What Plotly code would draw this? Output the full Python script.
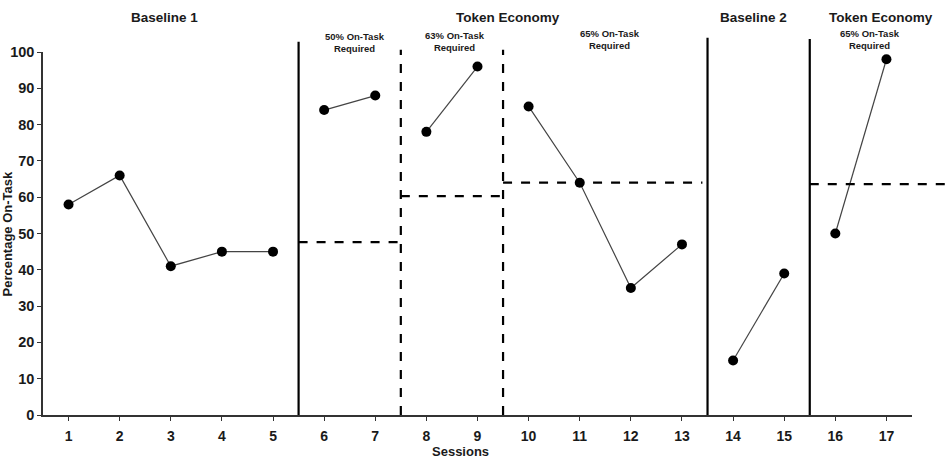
import plotly.graph_objects as go

sessions = list(range(1, 18))
on_task = [58, 66, 41, 45, 45, 84, 88, 78, 96, 85, 64, 35, 47, 15, 39, 50, 98]
phase_ids = [0, 0, 0, 0, 0, 1, 1, 2, 2, 3, 3, 3, 3, 4, 4, 5, 5]

phase_lines_x = [5.5, 7.5, 9.5, 13.5, 15.5]
phase_lines_dash = ["solid", "dash", "dash", "solid", "solid"]
phase_lines_top = [1.028, 1.006, 1.006, 1.039, 1.036]

criterion_start = [5.5, 7.5, 9.5, 15.5]
criterion_end = [7.5, 9.5, 13.4, 18.2]
criterion_level = [47.6, 60.3, 64.0, 63.6]

phase_titles = ["Baseline 1", "Token Economy", "Baseline 2", "Token Economy"]
phase_title_x = [2.87, 9.6, 14.4, 16.9]
sub_titles = ["50% On-Task<br>Required", "63% On-Task<br>Required",
              "65% On-Task<br>Required", "65% On-Task<br>Required"]
sub_title_x = [6.6, 8.55, 11.6, 16.67]
sub_title_y = [0.988, 0.993, 0.996, 0.996]

FONT = "Liberation Sans, Arial, sans-serif"
W, H = 946, 460
L, R, T, B = 43, 34, 52, 45
X_RANGE = [0.5, 17.5]


def to_paper_x(v):
    return (v - X_RANGE[0]) / (X_RANGE[1] - X_RANGE[0])


fig = go.Figure()
for p in sorted(set(phase_ids)):
    xs = [s for s, ph in zip(sessions, phase_ids) if ph == p]
    ys = [v for v, ph in zip(on_task, phase_ids) if ph == p]
    fig.add_trace(go.Scatter(
        x=xs, y=ys, mode="lines+markers",
        line=dict(color="#444444", width=1.2),
        marker=dict(color="black", size=10),
        showlegend=False, cliponaxis=False,
    ))

for x, d, top in zip(phase_lines_x, phase_lines_dash, phase_lines_top):
    fig.add_shape(type="line", xref="x", yref="paper", x0=x, x1=x, y0=0, y1=top,
                  line=dict(color="black", width=2.2, dash=d))

for x0, x1, lv in zip(criterion_start, criterion_end, criterion_level):
    fig.add_shape(type="line", xref="paper", yref="y",
                  x0=to_paper_x(x0), x1=to_paper_x(x1), y0=lv, y1=lv,
                  line=dict(color="black", width=2.2, dash="dash"))

for t, x in zip(phase_titles, phase_title_x):
    fig.add_annotation(text="<b>" + t + "</b>", x=x, xref="x", y=1.0 + (52 - 18) / 363,
                       yref="paper", showarrow=False,
                       font=dict(family=FONT, size=13.5, color="#1a1a1a"),
                       xanchor="center", yanchor="middle")

for t, x, y in zip(sub_titles, sub_title_x, sub_title_y):
    fig.add_annotation(text="<b>" + t + "</b>", x=x, xref="x", y=y, yref="paper",
                       showarrow=False, font=dict(family=FONT, size=9.5, color="#1a1a1a"),
                       xanchor="center", yanchor="bottom")

fig.add_annotation(text="<b>Percentage On-Task</b>", textangle=-90,
                   x=(7 - L) / (W - L - R), xref="paper", y=0.5, yref="paper",
                   showarrow=False, font=dict(family=FONT, size=13, color="#1a1a1a"),
                   xanchor="center", yanchor="middle")
fig.add_annotation(text="<b>Sessions</b>", x=(460 - L) / (W - L - R), xref="paper",
                   y=-(442 - 415) / 363, yref="paper", showarrow=False,
                   font=dict(family=FONT, size=13, color="#1a1a1a"),
                   xanchor="center", yanchor="top")

fig.update_layout(
    width=W, height=H,
    margin=dict(l=L, r=R, t=T, b=B, autoexpand=False),
    plot_bgcolor="white", paper_bgcolor="white",
    xaxis=dict(range=X_RANGE, tickmode="array", tickvals=sessions,
               ticktext=["<b>%d</b>" % s for s in sessions],
               showgrid=False, zeroline=False, showline=True, automargin=False,
               linecolor="#333333", linewidth=1.5, ticks="outside", ticklen=4,
               ticklabelstandoff=3,
               tickcolor="#333333", tickfont=dict(family=FONT, size=14, color="#1a1a1a")),
    yaxis=dict(range=[0, 100], tickmode="array", tickvals=list(range(0, 101, 10)),
               ticktext=["<b>%d</b>" % v for v in range(0, 101, 10)],
               showgrid=False, zeroline=False, showline=True, automargin=False,
               linecolor="#333333", linewidth=1.5, ticks="outside", ticklen=4,
               tickcolor="#333333", tickfont=dict(family=FONT, size=14.5, color="#1a1a1a")),
)

fig.write_html("out.html")
